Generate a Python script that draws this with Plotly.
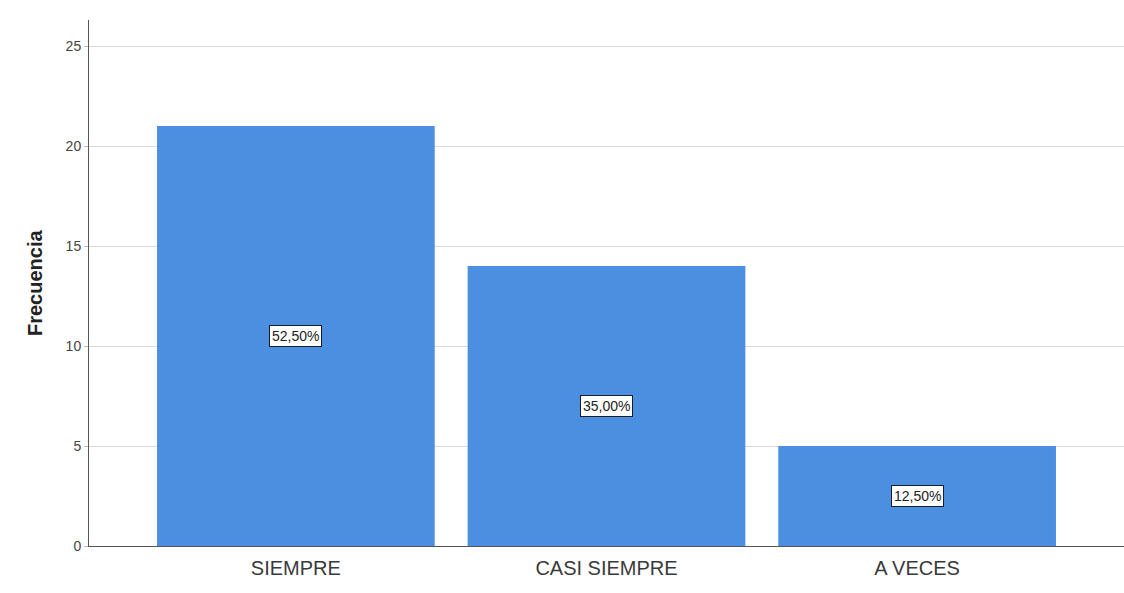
import plotly.graph_objects as go

categorias = ["SIEMPRE", "CASI SIEMPRE", "A VECES"]
frecuencias = [21, 14, 5]
ticks_y = [0, 5, 10, 15, 20, 25]

total = sum(frecuencias)
porcentajes = [f * 100 / total for f in frecuencias]
etiquetas = [f"{p:.2f}".replace(".", ",") + "%" for p in porcentajes]

color_barra = "#4a8fe0"
fuente = "Arial, Liberation Sans"

fig = go.Figure()
fig.add_trace(go.Bar(
    x=list(range(len(categorias))),
    y=frecuencias,
    marker=dict(color=color_barra, line=dict(width=0)),
    hoverinfo="skip",
))

# Etiquetas de porcentaje centradas en cada barra
for i, (f, txt) in enumerate(zip(frecuencias, etiquetas)):
    fig.add_annotation(
        x=i, y=f / 2, text=txt, showarrow=False,
        font=dict(family=fuente, size=14, color="#222222"),
        bgcolor="white", bordercolor="#1a1a2a", borderwidth=1, borderpad=2,
    )

# Título del eje vertical
fig.add_annotation(
    text="<b>Frecuencia</b>", textangle=-90, showarrow=False,
    xref="paper", yref="paper", x=(35 - 89) / 1035, y=0.5,
    xanchor="center", yanchor="middle",
    font=dict(family=fuente, size=20, color="#222222"),
)

fig.update_layout(
    width=1124, height=593,
    margin=dict(l=89, r=0, t=20, b=47),
    paper_bgcolor="white", plot_bgcolor="white",
    bargap=0.106,
    showlegend=False,
    font=dict(family=fuente, color="#333333"),
)
fig.update_xaxes(
    range=[-0.666, 2.666],
    tickmode="array", tickvals=list(range(len(categorias))), ticktext=categorias,
    tickfont=dict(size=20, color="#3a3a3a"),
    ticklabelstandoff=4,
    showline=True, linecolor="#555555", linewidth=1,
    showgrid=False, ticks="", zeroline=False,
)
fig.update_yaxes(
    range=[0, 26.3],
    tickmode="array", tickvals=ticks_y,
    tickfont=dict(size=14, color="#444444"),
    showline=True, linecolor="#555555", linewidth=1,
    showgrid=True, gridcolor="#d9d9d9", gridwidth=1,
    ticks="outside", ticklen=4, tickcolor="#bbbbbb",
    zeroline=False,
)

fig.write_html("out.html")
